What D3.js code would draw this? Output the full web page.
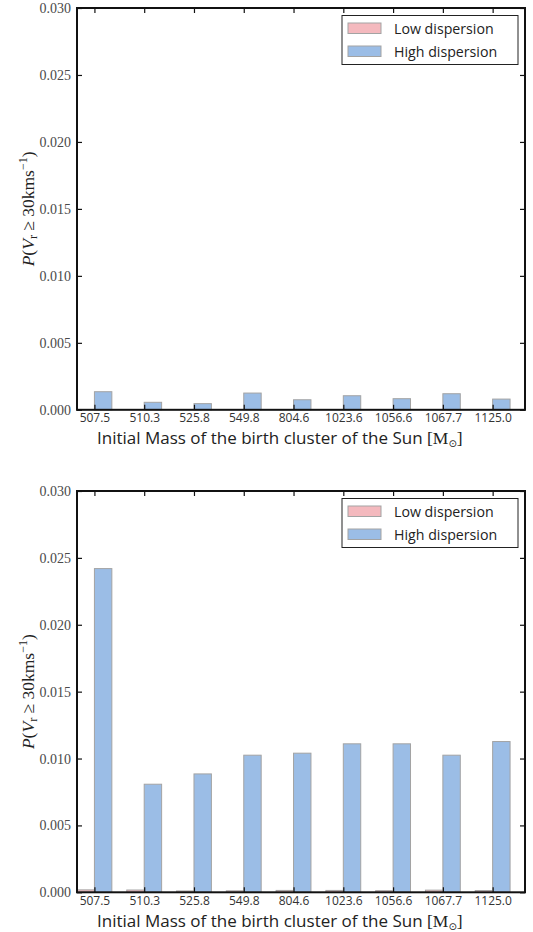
<!DOCTYPE html>
<html>
<head>
<meta charset="utf-8">
<script src="https://cdn.jsdelivr.net/npm/d3@7"></script>
<style>
  html, body { margin: 0; padding: 0; background: #fff; }
  svg { display: block; }
</style>
</head>
<body>
<svg id="chart" width="533" height="932"></svg>
<script>
// Initial masses of the Sun's birth cluster (category labels)
const categories = ["507.5", "510.3", "525.8", "549.8", "804.6", "1023.6", "1056.6", "1067.7", "1125.0"];

// Upper panel: probability of V_r >= 30 km/s
const lowTop  = [0, 0, 0, 0, 0, 0, 0, 0, 0];
const highTop = [0.00135, 0.00056, 0.00046, 0.00125, 0.00075, 0.00105, 0.00083, 0.00120, 0.00080];

// Lower panel
const lowBottom  = [0.00018, 0.00017, 0.00010, 0.00011, 0.00014, 0.00014, 0.00012, 0.00016, 0.00013];
const highBottom = [0.0242, 0.00808, 0.00885, 0.01025, 0.0104, 0.0111, 0.0111, 0.01025, 0.01127];

const yTicks = [0.000, 0.005, 0.010, 0.015, 0.020, 0.025, 0.030];
const seriesNames = ["Low dispersion", "High dispersion"];
const seriesColors = ["#f4b9be", "#9bbde6"];

const svg = d3.select("#chart");
const barW = 0.35;
const left = 77, right = 525;

function panel(top, bottom, low, high) {
  const g = svg.append("g");
  const x = d3.scaleLinear().domain([0, 9]).range([left, right]);
  const y = d3.scaleLinear().domain([0, 0.030]).range([bottom, top]);
  const tickPos = categories.map((c, i) => i + barW);

  // bars
  const series = [low, high];
  series.forEach((vals, s) => {
    g.append("g").selectAll("rect").data(vals).join("rect")
      .attr("x", (d, i) => x(i + s * barW))
      .attr("width", x(barW) - x(0))
      .attr("y", d => y(d))
      .attr("height", d => y(0) - y(d))
      .attr("fill", seriesColors[s])
      .attr("stroke", "#a3a3a3")
      .attr("stroke-width", 1);
  });

  // axes with inward ticks
  const yl = g.append("g").attr("transform", `translate(${left},0)`)
    .call(d3.axisLeft(y).tickValues(yTicks).tickFormat(d3.format(".3f")).tickSize(-5).tickPadding(6));
  yl.attr("font-family", null).attr("font-size", null);
  yl.selectAll("text").attr("font-family", "'Liberation Serif', serif").attr("font-size", 14).attr("fill", "#4a4a4a");
  const yr = g.append("g").attr("transform", `translate(${right},0)`)
    .call(d3.axisRight(y).tickValues(yTicks).tickFormat("").tickSize(-5));
  const xt = g.append("g").attr("transform", `translate(0,${top})`)
    .call(d3.axisTop(x).tickValues(tickPos).tickFormat("").tickSize(-5));
  const xb = g.append("g").attr("transform", `translate(0,${bottom})`)
    .call(d3.axisBottom(x).tickValues(tickPos).tickFormat((d, i) => categories[i]).tickSize(-5).tickPadding(4));
  xb.attr("font-family", null).attr("font-size", null);
  xb.selectAll("text").attr("font-family", "'Open Sans', sans-serif").attr("font-size", 12).attr("fill", "#333");
  [yl, yr, xt, xb].forEach(a => {
    a.select(".domain").remove();
    a.selectAll(".tick line").attr("stroke", "#111").attr("stroke-width", 1.2);
  });

  // frame
  g.append("rect").attr("x", left).attr("y", top).attr("width", right - left).attr("height", bottom - top)
    .attr("fill", "none").attr("stroke", "#111").attr("stroke-width", 2);

  // x axis title
  const xl = g.append("text").attr("x", 97).attr("y", bottom + 34.5)
    .attr("font-family", "'Open Sans', sans-serif").attr("font-size", 17).attr("fill", "#222");
  xl.append("tspan").text("Initial Mass of the birth cluster of the Sun ");
  xl.append("tspan").attr("font-family", "'Liberation Serif', serif").attr("font-size", 17.5).text("[M");
  xl.append("tspan").attr("font-family", "'DejaVu Sans', sans-serif").attr("font-size", 10).attr("dy", 3).text("\u2299");
  xl.append("tspan").attr("font-family", "'Liberation Serif', serif").attr("font-size", 17.5).attr("dy", -3).text("]");

  // y axis title
  const cy = (top + bottom) / 2;
  const ytl = g.append("text").attr("transform", `translate(34,${cy}) rotate(-90)`)
    .attr("text-anchor", "middle").attr("font-family", "'Liberation Serif', serif").attr("font-size", 17.5).attr("fill", "#222");
  ytl.append("tspan").attr("font-style", "italic").text("P");
  ytl.append("tspan").text("(");
  ytl.append("tspan").attr("font-style", "italic").text("V");
  ytl.append("tspan").attr("font-size", 12).attr("dy", 3).text("r");
  ytl.append("tspan").attr("dy", -3).text(" \u2265 30kms");
  ytl.append("tspan").attr("font-size", 12).attr("dy", -7).text("\u22121");
  ytl.append("tspan").attr("dy", 7).text(")");

  // legend
  const lg = g.append("g").attr("transform", `translate(342,${top + 7.5})`);
  lg.append("rect").attr("width", 176).attr("height", 49).attr("fill", "#fff").attr("stroke", "#222").attr("stroke-width", 1);
  seriesNames.forEach((name, s) => {
    lg.append("rect").attr("x", 6).attr("y", 7.5 + s * 23).attr("width", 33).attr("height", 10.5)
      .attr("fill", seriesColors[s]).attr("stroke", "#a3a3a3").attr("stroke-width", 1);
    lg.append("text").attr("x", 52).attr("y", 18 + s * 23)
      .attr("font-family", "'Open Sans', sans-serif").attr("font-size", 14.2).attr("fill", "#222").text(name);
  });
}

panel(8, 409.8, lowTop, highTop);
panel(491, 892.3, lowBottom, highBottom);
</script>
</body>
</html>
